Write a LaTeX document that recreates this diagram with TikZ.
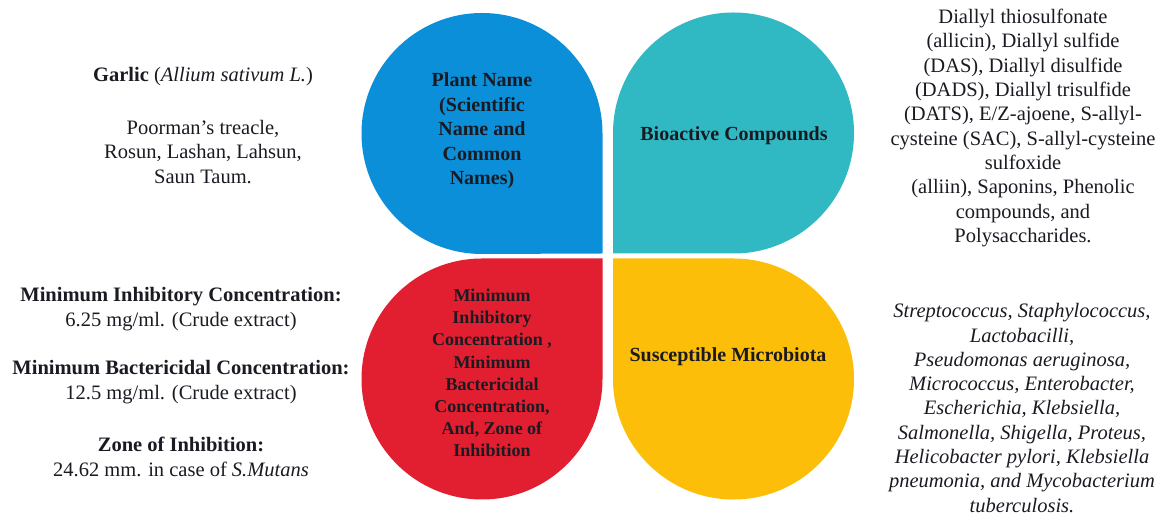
\documentclass[tikz,border=0pt]{standalone}
\usepackage{fontspec}
\setmainfont{Liberation Serif}
\definecolor{pblue}{HTML}{0A8FD8}
\definecolor{pteal}{HTML}{31B9C3}
\definecolor{pred}{HTML}{E21F30}
\definecolor{pyellow}{HTML}{FCBE08}
\definecolor{ptext}{HTML}{1A1A22}
\tikzset{
  petal/.style={draw=none},
  outtext/.style={align=center, inner sep=0pt, text=ptext, font=\fontsize{20.5}{24.3}\selectfont},
  petaltext/.style={align=center, inner sep=0pt, text=ptext, font=\fontsize{20}{24.5}\selectfont\bfseries},
}
\begin{document}
\begin{tikzpicture}[x=1pt,y=1pt]
\useasboundingbox (0,0) rectangle (1160,516);
% petals
\fill[pblue]   (602.5,262.5) -- (602.5,382.5) arc[start angle=0,end angle=270,radius=120.5] -- cycle;
\fill[pteal]   (613,262.5) -- (733.5,262.5) arc[start angle=-90,end angle=180,radius=120.5] -- cycle;
\fill[pred]    (602.5,257.5) -- (482,257.5) arc[start angle=90,end angle=360,radius=120.5] -- cycle;
\fill[pyellow] (613,257.5) -- (613,137) arc[start angle=180,end angle=450,radius=120.5] -- cycle;
% petal labels
\node[petaltext] (plant) at (482,385) {Plant Name\\(Scientific\\Name and\\Common\\Names)};
\node[petaltext] (bio) at (734,380) {Bioactive Compounds};
\node[petaltext, font=\fontsize{18}{22.2}\selectfont\bfseries] (mic) at (492,143) {Minimum\\Inhibitory\\Concentration ,\\Minimum\\Bactericidal\\Concentration,\\And, Zone of\\Inhibition};
\node[petaltext] (sus) at (728,159) {Susceptible Microbiota};
% outer texts
\node[outtext] (garlic) at (203,439) {\textbf{Garlic} (\textit{Allium sativum L.})};
\node[outtext] (common) at (203,364) {Poorman’s treacle,\\Rosun, Lashan, Lahsun,\\Saun Taum.};
\node[outtext] (micv) at (181,207) {\textbf{Minimum Inhibitory Concentration:}\\6.25 mg/ml. (Crude extract)};
\node[outtext] (mbcv) at (181,134) {\textbf{Minimum Bactericidal Concentration:}\\12.5 mg/ml. (Crude extract)};
\node[outtext] (zoiv) at (181,59) {\textbf{Zone of Inhibition:}\\24.62 mm. in case of \textit{S.Mutans}};
\node[outtext] (compounds) at (1023,388) {Diallyl thiosulfonate\\(allicin), Diallyl sulfide\\(DAS), Diallyl disulfide\\(DADS), Diallyl trisulfide\\(DATS), E/Z-ajoene, S-allyl-\\cysteine (SAC), S-allyl-cysteine\\sulfoxide\\(alliin), Saponins, Phenolic\\compounds, and\\Polysaccharides.};
\node[outtext, font=\fontsize{20.5}{24.3}\selectfont\itshape] (microbes) at (1022,108) {Streptococcus, Staphylococcus,\\Lactobacilli,\\Pseudomonas aeruginosa,\\Micrococcus, Enterobacter,\\Escherichia, Klebsiella,\\Salmonella, Shigella, Proteus,\\Helicobacter pylori, Klebsiella\\pneumonia, and Mycobacterium\\tuberculosis.};
\end{tikzpicture}
\end{document}
